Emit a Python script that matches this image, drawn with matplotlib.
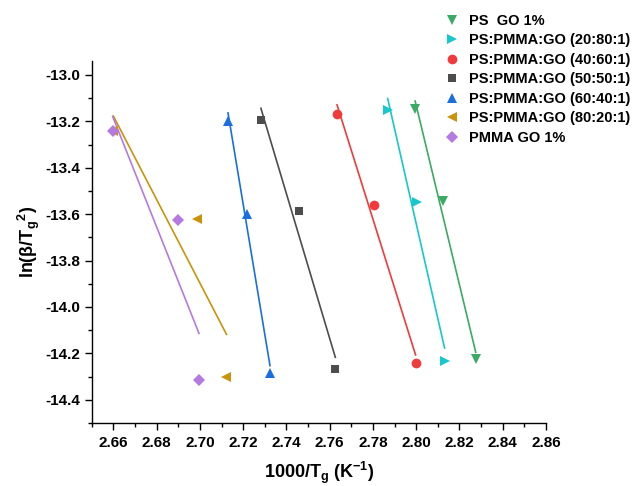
import numpy as np
import matplotlib
matplotlib.use("Agg")
import matplotlib.pyplot as plt

plt.rcParams['font.family'] = ['Liberation Sans', 'DejaVu Sans']
plt.rcParams['font.weight'] = 'bold'
plt.rcParams['mathtext.fontset'] = 'custom'
plt.rcParams['mathtext.rm'] = 'Liberation Sans:bold'
plt.rcParams['mathtext.bf'] = 'Liberation Sans:bold'

# 1000/Tg (K^-1) and ln(beta/Tg^2)
labels = ["PS  GO 1%", "PS:PMMA:GO (20:80:1)", "PS:PMMA:GO (40:60:1)",
          "PS:PMMA:GO (50:50:1)", "PS:PMMA:GO (60:40:1)",
          "PS:PMMA:GO (80:20:1)", "PMMA GO 1%"]
x_ps = [2.7995, 2.8123, 2.8275]
y_ps = [-13.147, -13.544, -14.224]
x_2080 = [2.7868, 2.8003, 2.8131]
y_2080 = [-13.153, -13.548, -14.231]
x_4060 = [2.7634, 2.7804, 2.7997]
y_4060 = [-13.167, -13.562, -14.240]
x_5050 = [2.7282, 2.7456, 2.7626]
y_5050 = [-13.193, -13.587, -14.267]
x_6040 = [2.7130, 2.7220, 2.7324]
y_6040 = [-13.200, -13.601, -14.284]
x_8020 = [2.6600, 2.6985, 2.7123]
y_8020 = [-13.243, -13.620, -14.302]
x_pmma = [2.6597, 2.6900, 2.6996]
y_pmma = [-13.243, -13.627, -14.313]

xs = [x_ps, x_2080, x_4060, x_5050, x_6040, x_8020, x_pmma]
ys = [y_ps, y_2080, y_4060, y_5050, y_6040, y_8020, y_pmma]
colors = ["#3aaa64", "#17c7cc", "#ef3b3b", "#4d4d4d", "#1a6fe0", "#c9930c", "#b47ae0"]
markers = ["v", ">", "o", "s", "^", "<", "D"]
msizes = [7.5, 7.5, 7, 6, 7.5, 7.5, 6]

fig = plt.figure(figsize=(6.33, 4.86), dpi=100)
ax = fig.add_axes([0.1449, 0.1296, 0.7177, 0.7449])

handles = []
for x, y, c, m, ms, lab in zip(xs, ys, colors, markers, msizes, labels):
    # linear fit drawn over the data range
    k, b = np.polyfit(x, y, 1)
    xf = np.array([min(x), max(x)])
    ax.plot(xf, k * xf + b, color=c, lw=1.2, zorder=2)
    h, = ax.plot(x, y, linestyle='none', marker=m, ms=ms, color=c,
                 markeredgewidth=0, label=lab, zorder=3)
    handles.append(h)

ax.set_xlim(2.65, 2.86)
ax.set_ylim(-14.5, -12.94)
ax.set_xticks(np.arange(2.66, 2.861, 0.02))
ax.set_xticks(np.arange(2.65, 2.861, 0.01), minor=True)
ax.set_yticks(np.arange(-14.4, -12.99, 0.2))
ax.set_yticks(np.arange(-14.5, -12.94, 0.1), minor=True)
ax.xaxis.set_major_formatter(plt.FuncFormatter(lambda v, p: f"{v:.2f}"))
ax.yaxis.set_major_formatter(plt.FuncFormatter(lambda v, p: f"{v:.1f}"))

for s in ['top', 'right']:
    ax.spines[s].set_visible(False)
for s in ['left', 'bottom']:
    ax.spines[s].set_linewidth(1.0)
ax.tick_params(which='major', direction='out', length=5, width=1, labelsize=11, pad=4)
ax.tick_params(which='minor', direction='out', length=3, width=1)
ax.tick_params(axis='y', pad=3)

ax.set_xlabel(r"1000/T$_\mathbf{g}$ (K$^\mathbf{-1}$)", fontsize=13, fontweight='bold')
ax.set_ylabel(r"ln(β/T$_\mathbf{g}$$^\mathbf{2}$)", fontsize=13, fontweight='bold')
ax.xaxis.set_label_coords(0.5, -0.1)
ax.yaxis.set_label_coords(-0.11, 0.5)

fig.legend(handles=handles, loc='upper left', bbox_to_anchor=(0.703, 0.972),
           frameon=False, fontsize=10.5, handlelength=1.0, handletextpad=0.65,
           labelspacing=0.38, borderpad=0, borderaxespad=0, numpoints=1)

fig.savefig("out.png", dpi=100)
